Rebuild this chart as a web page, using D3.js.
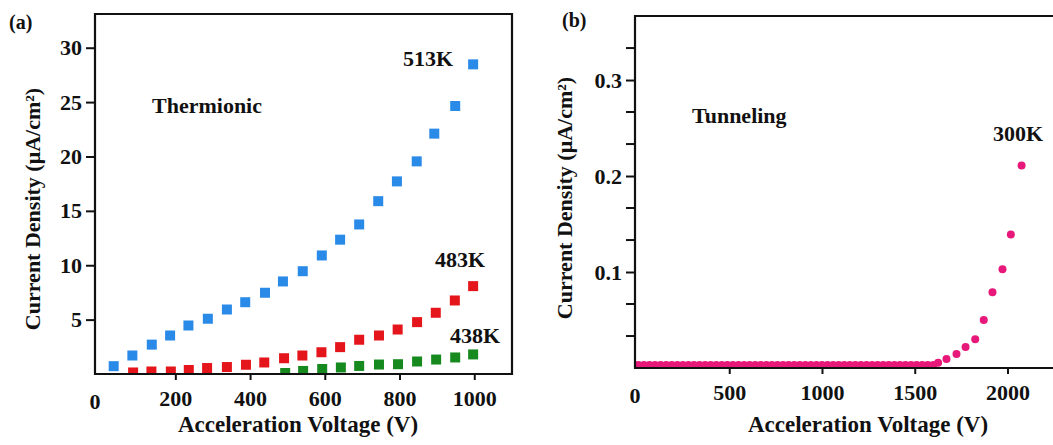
<!DOCTYPE html>
<html>
<head>
<meta charset="utf-8">
<script src="https://cdn.jsdelivr.net/npm/d3@7/dist/d3.min.js"></script>
<style>
    body { margin: 0; background: #fff; }
    text { font-family: 'Liberation Serif', 'Times New Roman', 'DejaVu Serif', serif; }
</style>
</head>
<body>
<div id="canvas"></div>
<script>
// Panel (a): thermionic emission, three temperatures
let thermoX513 = [35, 85, 137, 186, 235, 287, 338, 387, 440, 488, 541, 592, 641, 692, 743, 793, 846, 893, 949, 997]
let thermoY513 = [0.72, 1.70, 2.70, 3.54, 4.46, 5.08, 5.93, 6.60, 7.47, 8.51, 9.45, 10.90, 12.35, 13.75, 15.89, 17.71, 19.55, 22.10, 24.64, 28.47]
let thermoX483 = [87, 136, 188, 236, 285, 338, 389, 438, 491, 540, 591, 641, 692, 745, 795, 847, 897, 948, 997]
let thermoY483 = [0.14, 0.23, 0.23, 0.37, 0.55, 0.64, 0.85, 1.06, 1.45, 1.70, 2.00, 2.47, 3.15, 3.54, 4.09, 4.77, 5.63, 6.76, 8.08]
let thermoX438 = [494, 542, 593, 643, 692, 745, 796, 847, 898, 949, 997]
let thermoY438 = [0.09, 0.28, 0.46, 0.60, 0.74, 0.87, 0.90, 1.15, 1.33, 1.52, 1.80]
let thermoXTicks = [200, 400, 600, 800, 1000]
let thermoYTicks = [5, 10, 15, 20, 25, 30]

// Panel (b): tunneling at 300K
let tunnelX = [10, 40, 70, 100, 130, 160, 190, 220, 250, 280, 310, 340, 370, 400, 430, 460, 490, 520,
    550, 580, 610, 640, 670, 700, 730, 760, 790, 820, 850, 880, 910, 940, 970, 1000, 1030, 1060,
    1090, 1120, 1150, 1180, 1210, 1240, 1270, 1300, 1330, 1360, 1390, 1420, 1450, 1480, 1510, 1540,
    1570, 1600, 1626, 1671, 1725, 1774, 1826, 1872, 1919, 1973, 2018, 2076]
let tunnelY = [0.003, 0.003, 0.003, 0.003, 0.003, 0.003, 0.003, 0.003, 0.003, 0.003, 0.003, 0.003, 0.003,
    0.003, 0.003, 0.003, 0.003, 0.003, 0.003, 0.003, 0.003, 0.003, 0.003, 0.003, 0.003, 0.003, 0.003,
    0.003, 0.003, 0.003, 0.003, 0.003, 0.003, 0.003, 0.003, 0.003, 0.003, 0.003, 0.003, 0.003, 0.003,
    0.003, 0.003, 0.003, 0.003, 0.003, 0.003, 0.003, 0.003, 0.003, 0.003, 0.003, 0.003, 0.003,
    0.0055, 0.0094, 0.0146, 0.022, 0.030, 0.050, 0.079, 0.103, 0.139, 0.211]
let tunnelXTicks = [500, 1000, 1500, 2000]
let tunnelYTicks = [0.1, 0.2, 0.3]
let tunnelYMinor = [0.0333, 0.0667, 0.1333, 0.1667, 0.2333, 0.2667, 0.3333]

let width = 1053
let height = 445
let font = "'Liberation Serif', 'Times New Roman', 'DejaVu Serif', serif"

let svg = d3.select('#canvas').append('svg')
    .attr('width', width)
    .attr('height', height)

/**
 * * Draw one panel frame with axes, returns the plot group
 */
function panel(id, x, y, xTicks, yTicks, yFormat, xLabel, yLabelPos) {
    let g = svg.append('g')
    let [x0, x1] = x.range()
    let [y0, y1] = y.range()

    g.append('clipPath').attr('id', id)
        .append('rect')
        .attr('x', x0).attr('y', y1)
        .attr('width', x1 - x0).attr('height', y0 - y1)

    let plot = g.append('g').attr('clip-path', 'url(#' + id + ')')

    let xa = g.append('g')
        .attr('transform', 'translate(0,' + y0 + ')')
        .call(d3.axisBottom(x).tickValues(xTicks).tickSize(6).tickPadding(10).tickFormat(d3.format('d')))
    let ya = g.append('g')
        .attr('transform', 'translate(' + x0 + ',0)')
        .call(d3.axisLeft(y).tickValues(yTicks).tickSize(9).tickPadding(4).tickFormat(d3.format(yFormat)))

    for (let a of [xa, ya]) {
        a.attr('font-family', font)
        a.select('.domain').remove()
        a.selectAll('line').attr('stroke', '#111').attr('stroke-width', 2)
        a.selectAll('text')
            .attr('fill', '#111')
            .attr('font-size', 22)
            .attr('font-weight', 'bold')
    }

    // "0" at the corner
    g.append('text')
        .attr('x', x0).attr('y', y0 + 35)
        .attr('text-anchor', 'middle')
        .attr('font-size', 22).attr('font-weight', 'bold').attr('fill', '#111')
        .text('0')

    g.append('text')
        .attr('x', xLabel[0]).attr('y', 432)
        .attr('text-anchor', 'middle')
        .attr('font-size', 23).attr('font-weight', 'bold').attr('fill', '#111')
        .text('Acceleration Voltage (V)')

    g.append('text')
        .attr('transform', 'translate(' + yLabelPos[0] + ',' + yLabelPos[1] + ') rotate(-90)')
        .attr('text-anchor', 'middle')
        .attr('font-size', 22).attr('font-weight', 'bold').attr('fill', '#111')
        .text('Current Density (\u03bcA/cm\u00b2)')

    // frame drawn later on top of the points
    g.frame = function () {
        g.append('path')
            .attr('d', 'M' + x0 + ',' + y1 + 'V' + y0 + 'H' + x1 + 'V' + y1 + 'Z')
            .attr('fill', 'none')
            .attr('stroke', '#111')
            .attr('stroke-width', 2.2)
    }
    g.plot = plot
    return g
}

// ---------- panel (a)
let xa = d3.scaleLinear().domain([-15, 1101]).range([95, 512])
let ya = d3.scaleLinear().domain([0, 33.1]).range([374, 14])
let pa = panel('clip-a', xa, ya, thermoXTicks, thermoYTicks, 'd', [298], [40, 209])

let series = [
    [thermoX513, thermoY513, '#2a8ae8'],
    [thermoX483, thermoY483, '#e5161b'],
    [thermoX438, thermoY438, '#178a1f']
]
let sq = 10
series.forEach(function (s) {
    pa.plot.selectAll(null)
        .data(s[0])
        .enter()
        .append('rect')
        .attr('x', (d) => xa(d) - sq / 2)
        .attr('y', (d, i) => ya(s[1][i]) - sq / 2)
        .attr('width', sq)
        .attr('height', sq)
        .attr('fill', s[2])
})
pa.frame()

let label = function (txt, x, y, size) {
    svg.append('text')
        .attr('x', x).attr('y', y)
        .attr('font-size', size).attr('font-weight', 'bold').attr('fill', '#111')
        .text(txt)
}
label('513K', 403, 66, 22)
label('483K', 435, 267, 22)
label('438K', 450, 343, 22)
label('Thermionic', 152, 113, 22)
label('(a)', 9, 29, 20)

// ---------- panel (b)
let xb = d3.scaleLinear().domain([-8, 2283]).range([635, 1060])
let yb = d3.scaleLinear().domain([0, 0.3667]).range([368, 16])
let pb = panel('clip-b', xb, yb, tunnelXTicks, tunnelYTicks, '.1f', [868], [572, 198])

pb.append('g')
    .attr('transform', 'translate(635,0)')
    .selectAll('line')
    .data(tunnelYMinor)
    .enter()
    .append('line')
    .attr('x1', -9).attr('x2', 0)
    .attr('y1', (d) => yb(d)).attr('y2', (d) => yb(d))
    .attr('stroke', '#111').attr('stroke-width', 2)

pb.plot.selectAll('circle')
    .data(tunnelX)
    .enter()
    .append('circle')
    .attr('cx', (d) => xb(d))
    .attr('cy', (d, i) => yb(tunnelY[i]))
    .attr('r', 4)
    .attr('fill', '#e8187a')
pb.frame()

label('300K', 993, 141, 22)
label('Tunneling', 692, 123, 22)
label('(b)', 562, 27, 20)
</script>
</body>
</html>
